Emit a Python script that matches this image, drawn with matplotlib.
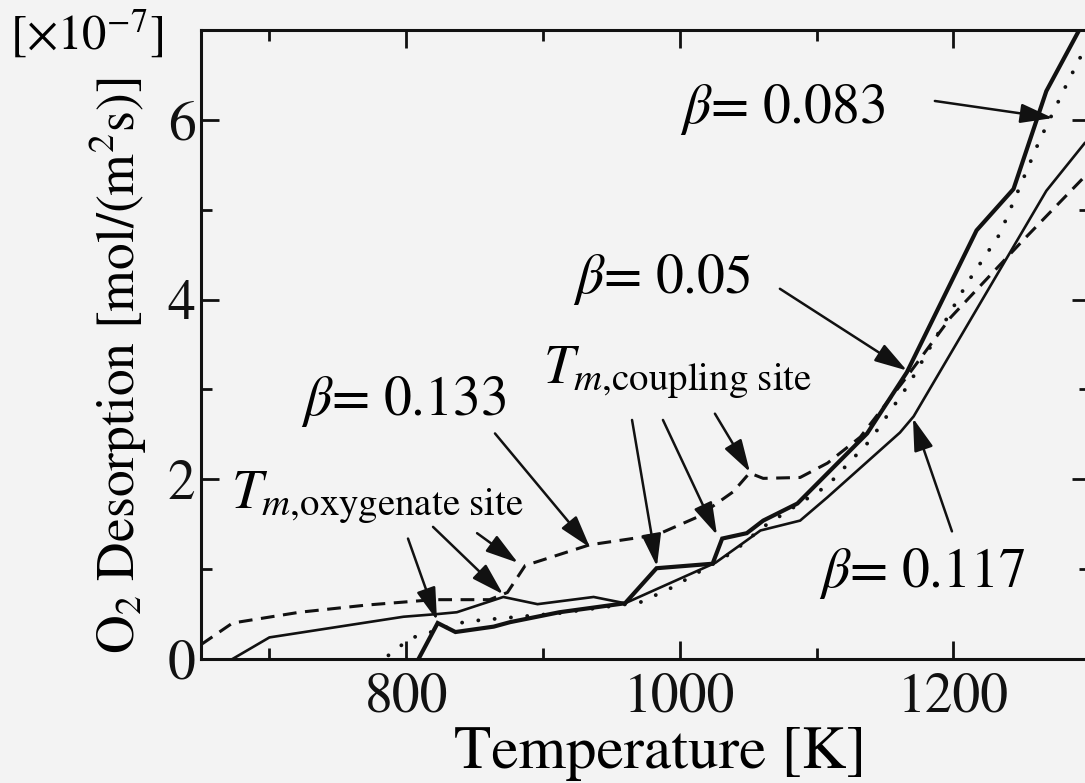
import matplotlib
matplotlib.use("Agg")
import matplotlib.pyplot as plt
from matplotlib.ticker import MultipleLocator

plt.rcParams['font.family'] = 'STIXGeneral'
plt.rcParams['mathtext.fontset'] = 'stix'

# beta = 0.05 (thick solid)
T_005 = [809, 823, 836, 864, 876, 912, 960, 983, 1024, 1031, 1049, 1061, 1086, 1137, 1166, 1217, 1244, 1268, 1291]
D_005 = [0.0, 0.40, 0.30, 0.36, 0.41, 0.52, 0.62, 1.01, 1.06, 1.34, 1.40, 1.54, 1.73, 2.51, 3.19, 4.77, 5.23, 6.32, 6.97]

# beta = 0.083 (dotted)
T_0083 = [787, 803, 842, 853, 912, 971, 995, 1039, 1061, 1108, 1139, 1168, 1210, 1234, 1263, 1283, 1296]
D_0083 = [0.04, 0.23, 0.41, 0.43, 0.51, 0.63, 0.80, 1.19, 1.47, 1.93, 2.43, 3.07, 4.18, 4.73, 5.77, 6.40, 6.79]

# beta = 0.117 (thin solid)
T_0117 = [673, 700, 798, 823, 837, 871, 896, 937, 960, 1026, 1049, 1059, 1088, 1108, 1161, 1171, 1268, 1296]
D_0117 = [0.0, 0.24, 0.47, 0.50, 0.52, 0.69, 0.61, 0.69, 0.62, 1.07, 1.32, 1.43, 1.54, 1.80, 2.52, 2.70, 5.21, 5.74]

# beta = 0.133 (dashed)
T_0133 = [650, 673, 722, 771, 820, 861, 874, 887, 934, 983, 1013, 1039, 1051, 1061, 1088, 1108, 1132, 1165, 1198, 1251, 1298]
D_0133 = [0.16, 0.40, 0.52, 0.60, 0.66, 0.66, 0.74, 1.04, 1.27, 1.38, 1.58, 1.86, 2.07, 2.01, 2.02, 2.18, 2.47, 3.12, 3.80, 4.66, 5.40]

fig = plt.figure(figsize=(10.85, 7.83), dpi=100, facecolor='#f3f3f3')
ax = fig.add_axes([0.1853, 0.1584, 0.8194, 0.8033])
ax.set_facecolor('#f3f3f3')

k = '#111111'
ax.plot(T_005, D_005, color=k, lw=3.0, solid_joinstyle='miter')
ax.plot(T_0083, D_0083, color=k, lw=2.8, linestyle=(0, (0.01, 4.2)), dash_capstyle='round')
ax.plot(T_0117, D_0117, color=k, lw=1.9, solid_joinstyle='miter')
ax.plot(T_0133, D_0133, color=k, lw=2.2, linestyle=(0, (4.5, 2.8)))

ax.set_xlim(650, 1300)
ax.set_ylim(0, 7)
ax.xaxis.set_major_locator(MultipleLocator(200))
ax.xaxis.set_minor_locator(MultipleLocator(100))
ax.yaxis.set_major_locator(MultipleLocator(2))
ax.yaxis.set_minor_locator(MultipleLocator(1))
ax.tick_params(which='both', direction='in', top=True, right=True, width=2, colors=k)
ax.tick_params(which='major', length=13, labelsize=40)
ax.tick_params(axis='x', which='major', pad=10)
ax.tick_params(axis='y', which='major', pad=4)
ax.tick_params(which='minor', length=8)
for s in ax.spines.values():
    s.set_linewidth(2.2)
    s.set_color(k)

fig.text(118 / 1085, 1 - 366 / 783, r'O$_2$ Desorption [mol/(m$^2$s)]', rotation=90,
         ha='center', va='center', fontsize=38.5)
fig.text(660 / 1085, 15 / 783, 'Temperature [K]', ha='center', va='baseline', fontsize=44)
fig.text(10 / 1085, 1 - 50 / 783, r'[$\times$10$^{-7}$]', ha='left', va='baseline', fontsize=35)

# labels
ax.text(1000, 5.96, r'$\beta$= 0.083', fontsize=40, ha='left', va='baseline')
ax.text(922, 4.07, r'$\beta$= 0.05', fontsize=40, ha='left', va='baseline')
ax.text(723, 2.71, r'$\beta$= 0.133', fontsize=40, ha='left', va='baseline')
ax.text(1102, 0.80, r'$\beta$= 0.117', fontsize=40, ha='left', va='baseline')

ax.text(900, 3.07, r'$T_{m{,}\mathrm{coupling\ site}}$', fontsize=40, ha='left', va='baseline')
ax.text(672, 1.68, r'$T_{m{,}\mathrm{oxygenate\ site}}$', fontsize=40, ha='left', va='baseline')

arrow = dict(arrowstyle='-|>,head_length=0.8,head_width=0.24', mutation_scale=25,
             color=k, lw=1.8, shrinkA=0, shrinkB=0)
arrows = [
    ((1186.5, 6.21), (1272.8, 6.02)),
    ((1073.2, 4.12), (1166.1, 3.21)),
    ((864.9, 2.51), (934.4, 1.24)),
    ((1199.0, 1.42), (1170.5, 2.68)),
    ((965.1, 2.66), (983.3, 1.03)),
    ((987.7, 2.66), (1027.2, 1.38)),
    ((1025.7, 2.73), (1051.3, 2.08)),
    ((801.3, 1.34), (822.5, 0.43)),
    ((819.6, 1.47), (870.8, 0.72)),
    ((851.8, 1.40), (881.7, 1.07)),
]
for tail, tip in arrows:
    ax.annotate('', xy=tip, xytext=tail, arrowprops=arrow)

fig.savefig('out.png', dpi=100, facecolor=fig.get_facecolor())
